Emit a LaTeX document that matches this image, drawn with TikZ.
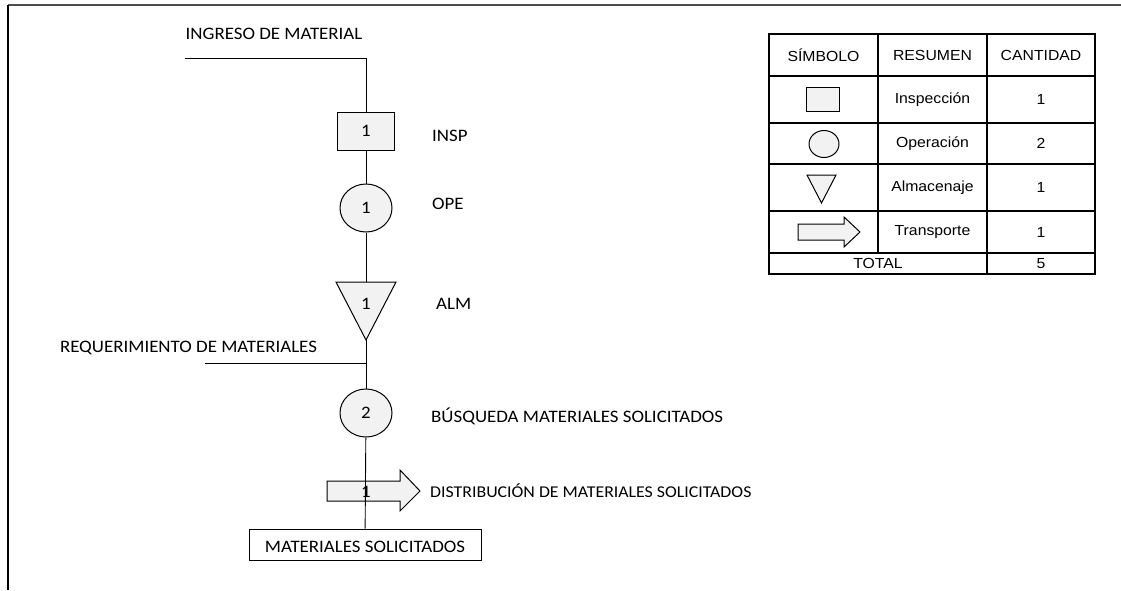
\documentclass[tikz,border=0pt]{standalone}
\usepackage{fontspec}
\setmainfont{Carlito}[FakeStretch=1.08]
\newfontfamily\tablefont{Liberation Sans}[FakeStretch=1.08]
\usetikzlibrary{shapes, arrows}
\definecolor{shapefill}{RGB}{242,242,242}

\tikzstyle{insp} = [rectangle, draw=black, fill=shapefill, line width=1pt, minimum width=57pt, minimum height=38pt, inner sep=0pt]
\tikzstyle{ope} = [ellipse, draw=black, fill=shapefill, line width=1pt, minimum width=52pt, minimum height=48pt, inner sep=0pt]
\tikzstyle{shapeline} = [draw=black, fill=shapefill, line width=1pt]
\tikzstyle{txt} = [inner sep=0pt, font=\fontsize{17.5}{20}\selectfont]
\tikzstyle{cell} = [inner sep=0pt, font=\tablefont\fontsize{14.6}{16}\selectfont]
\tikzstyle{line} = [draw, line width=0.9pt]
\tikzstyle{grid} = [draw, line width=2pt]

\begin{document}
\begin{tikzpicture}[x=1pt, y=-1pt]
	\useasboundingbox (0,0) rectangle (1121,590);
	% frame
	\draw [black!70, line width=2.5pt] (8,5) -- (1121,5);
	\draw [line width=2pt] (8,5) -- (8,590);

	% blocks
	\node [txt] (ingreso) at (274,34) {INGRESO DE MATERIAL};
	\coordinate (ingresoend) at (185,58);
	\node [insp] (insp) at (366,131) {};
	\node [txt] at (insp) {1};
	\node [txt, anchor=west] (insplbl) at (432,136) {INSP};
	\node [ope] (ope1) at (366,208) {};
	\node [txt] at (ope1) {1};
	\node [txt, anchor=west] (opelbl) at (432,204) {OPE};
	\coordinate (almtop) at (366,282);
	\coordinate (almtip) at (366,340);
	\draw [shapeline] (336,282) -- (396,282) -- (almtip) -- cycle;
	\node [txt] (alm) at (366,304) {1};
	\node [txt, anchor=west] (almlbl) at (436,304) {ALM};
	\node [txt] (req) at (188.5,348) {REQUERIMIENTO DE MATERIALES};
	\coordinate (reqend) at (205,363);
	\coordinate (reqjoin) at (366,363);
	\node [ope] (ope2) at (366,413) {};
	\node [txt] at (ope2) {2};
	\node [txt, anchor=west] (buslbl) at (431,416) {BÚSQUEDA MATERIALES SOLICITADOS};
	% transport arrow
	\draw [shapeline] (327,481) -- (400,481) -- (400,470) -- (420,491) -- (400,511) -- (400,501) -- (327,501) -- cycle;
	\node [txt, anchor=west, font=\fontsize{16.5}{20}\selectfont] (distlbl) at (430,491) {DISTRIBUCIÓN DE MATERIALES SOLICITADOS};
	\node [draw, line width=1pt, minimum width=232pt, minimum height=31pt, inner sep=0pt] (mat) at (365,544.5) {};
	\node [txt] at (365,547) {MATERIALES SOLICITADOS};

	% lines
	\draw [line] (ingresoend) -| (insp.north);
	\draw [line] (insp) -- (ope1);
	\draw [line] (ope1) -- (almtop);
	\draw [line] (almtip) -- (ope2);
	\draw [line] (reqend) -- (reqjoin);
	\draw [line] (ope2) -- (mat);
	\node [txt] (distnum) at (366,492) {1};

	% summary table
	\draw [grid] (769,34) rectangle (1095,274);
	\foreach \y in {76,123,164,211,253}
		\draw [grid] (769,\y) -- (1095,\y);
	\draw [grid] (878,34) -- (878,253);
	\draw [grid] (987,34) -- (987,274);

	\node [cell] (hsym) at (823.5,55) {SÍMBOLO};
	\node [cell] (hres) at (932.5,55) {RESUMEN};
	\node [cell] (hcant) at (1041,55) {CANTIDAD};

	\node [insp, minimum width=33pt, minimum height=24pt] (syminsp) at (822.5,99) {};
	\node [ope, minimum width=30pt, minimum height=27pt] (symope) at (824,144) {};
	\draw [shapeline] (807,175) -- (836,175) -- (821.5,203) -- cycle;
	\draw [shapeline] (798,224) -- (844,224) -- (844,217) -- (860,232) -- (844,247) -- (844,240) -- (798,240) -- cycle;

	\node [cell] (rinsp) at (932.5,99.5) {Inspección};
	\node [cell] (rope) at (932.5,143.5) {Operación};
	\node [cell] (ralm) at (932.5,187.5) {Almacenaje};
	\node [cell] (rtrans) at (932.5,232) {Transporte};
	\node [cell] (total) at (878,263.5) {TOTAL};

	\node [cell] (cinsp) at (1041,99.5) {1};
	\node [cell] (cope) at (1041,143.5) {2};
	\node [cell] (calm) at (1041,187.5) {1};
	\node [cell] (ctrans) at (1041,232) {1};
	\node [cell] (ctotal) at (1041,263.5) {5};
\end{tikzpicture}
\end{document}
